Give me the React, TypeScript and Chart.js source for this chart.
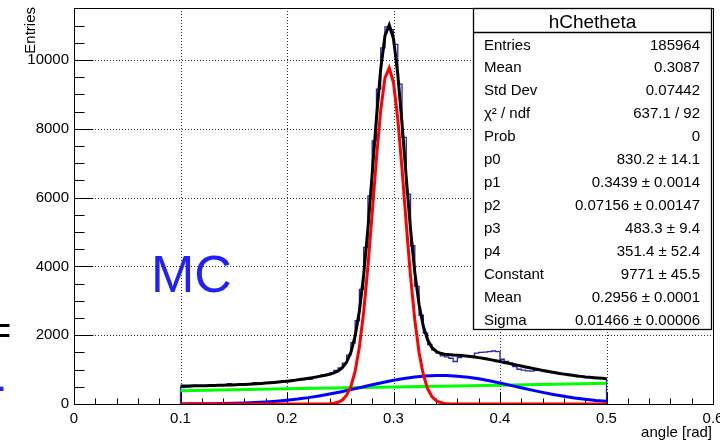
import { useEffect, useRef } from 'react';
import { Chart, registerables } from 'chart.js';

Chart.register(...registerables);

const FONT = "'Liberation Sans', Arial, Helvetica, sans-serif";

// Histogram hChetheta: 100 bins between HIST_LOW and HIST_HIGH
const HIST_LOW = 0.1;
const HIST_HIGH = 0.5;
const histCounts = [
  478, 488, 505, 520, 528, 533, 540, 536, 545, 548,
  552, 590, 560, 566, 565, 575, 582, 622, 596, 600,
  615, 625, 632, 650, 662, 672, 690, 700, 712, 722,
  718, 770, 805, 835, 860, 905, 975, 1050, 1190, 1420,
  1780, 2420, 3330, 4550, 6050, 7650, 9150, 10350, 10960, 10880,
  10450, 9300, 7750, 6100, 4600, 3420, 2580, 2060, 1730, 1570,
  1480, 1400, 1370, 1330, 1235, 1350, 1400, 1385, 1380, 1480,
  1500, 1510, 1525, 1540, 1520, 1300, 1240, 1185, 1090, 1010,
  985, 965, 955, 975, 995, 975, 950, 925, 905, 885,
  865, 845, 830, 812, 800, 786, 772, 762, 752, 742,
];

// Total fit curve (black), 101 samples from 0.1 to 0.5
const fitTotal = [
  521, 523, 525, 527, 529, 532, 534, 537, 540, 544,
  547, 551, 555, 560, 565, 570, 577, 583, 590, 599,
  607, 617, 627, 639, 651, 664, 679, 694, 710, 728,
  746, 767, 788, 811, 836, 864, 903, 959, 1053, 1218,
  1504, 1978, 2712, 3754, 5106, 6686, 8312, 9738, 10705, 11017,
  10618, 9592, 8156, 6570, 5073, 3827, 2891, 2258, 1866, 1643,
  1532, 1474, 1449, 1436, 1426, 1419, 1407, 1396, 1382, 1364,
  1348, 1327, 1306, 1283, 1259, 1235, 1208, 1183, 1156, 1130,
  1103, 1076, 1051, 1025, 1000, 975, 952, 930, 908, 888,
  868, 850, 833, 817, 803, 788, 776, 765, 754, 745,
  736,
];

// Signal gaussian (red), same 101 samples
const fitSignal = [
  0, 0, 0, 0, 0, 0, 0, 0, 0, 0,
  0, 0, 0, 0, 0, 0, 0, 0, 0, 0,
  0, 0, 0, 0, 0, 0, 0, 0, 0, 0,
  0, 0, 0, 1, 2.5, 7, 20, 50, 117, 254,
  512, 957, 1661, 2674, 3997, 5547, 7145, 8542, 9481, 9767,
  9341, 8292, 6833, 5226, 3711, 2446, 1497, 850, 448, 219,
  100, 42, 16, 6, 2, 0, 0, 0, 0, 0,
  0, 0, 0, 0, 0, 0, 0, 0, 0, 0,
  0, 0, 0, 0, 0, 0, 0, 0, 0, 0,
  0, 0, 0, 0, 0, 0, 0, 0, 0, 0,
  0,
];

// Broad background gaussian (blue), 41 samples from 0.1 to 0.5
const fitBkgGaus = [
  2.5, 4, 6.2, 9.5, 14.3, 21.1, 30.6, 43.3, 60.3, 82.2,
  109.9, 144.2, 185.5, 234, 289, 351, 417, 487, 557, 625,
  688, 742, 785, 815, 829, 827, 809, 777, 731, 675,
  611, 542, 472, 403, 337, 277, 223, 176, 136, 103,
  77,
];

// Linear background (green)
const linX = [0.1, 0.2, 0.3, 0.4, 0.5];
const linY = [385, 440, 495, 545, 600];

// Axes
const xTickValues = [0, 0.1, 0.2, 0.3, 0.4, 0.5, 0.6];
const xTickLabels = ['0', '0.1', '0.2', '0.3', '0.4', '0.5', '0.6'];
const yTickValues = [0, 2000, 4000, 6000, 8000, 10000];
const yTickLabels = ['0', '2000', '4000', '6000', '8000', '10000'];
const X_MINOR_STEP = 0.02;
const Y_MINOR_STEP = 500;
const X_MAX = 0.6;
const Y_MAX = 11510;

// Stats box
const statsTitle = 'hChetheta';
const statLabels = ['Entries', 'Mean', 'Std Dev', 'χ² / ndf', 'Prob', 'p0', 'p1', 'p2', 'p3', 'p4', 'Constant', 'Mean', 'Sigma'];
const statValues = ['185964', '0.3087', '0.07442', '637.1 / 92', '0', '830.2 ± 14.1', '0.3439 ± 0.0014', '0.07156 ± 0.00147', '483.3 ± 9.4', '351.4 ± 52.4', '9771 ± 45.5', '0.2956 ± 0.0001', '0.01466 ± 0.00006'];

export default function App() {
  const ref = useRef<HTMLCanvasElement | null>(null);

  useEffect(() => {
    document.body.style.margin = '0';
    const canvas = ref.current;
    if (!canvas) return;

    const nB = histCounts.length;
    const bw = (HIST_HIGH - HIST_LOW) / nB;
    const histPts = [{ x: HIST_LOW, y: 0 }];
    histCounts.forEach((c, i) => histPts.push({ x: HIST_LOW + i * bw, y: c }));
    histPts.push({ x: HIST_HIGH, y: 0 });

    const fstep = (HIST_HIGH - HIST_LOW) / (fitTotal.length - 1);
    const totPts = fitTotal.map((v, k) => ({ x: HIST_LOW + k * fstep, y: v }));
    const sigPts = fitSignal.map((v, k) => ({ x: HIST_LOW + k * fstep, y: v }));
    const bstep = (HIST_HIGH - HIST_LOW) / (fitBkgGaus.length - 1);
    const bkgPts = fitBkgGaus.map((v, k) => ({ x: HIST_LOW + k * bstep, y: v }));
    const linPts = linY.map((v, i) => ({ x: linX[i], y: v }));

    const decor = {
      id: 'rootDecor',
      beforeDatasetsDraw(chart: any) {
        const { ctx, chartArea: a, scales } = chart;
        const xs = scales.x, ys = scales.y;
        ctx.save();
        // dotted grid
        ctx.strokeStyle = 'rgba(0,0,0,0.8)';
        ctx.lineWidth = 1;
        ctx.setLineDash([1, 2]);
        ctx.beginPath();
        xTickValues.forEach((v) => {
          if (v <= 0 || v >= X_MAX) return;
          const px = Math.round(xs.getPixelForValue(v)) + 0.5;
          ctx.moveTo(px, a.top);
          ctx.lineTo(px, a.bottom);
        });
        yTickValues.forEach((v) => {
          if (v <= 0) return;
          const py = Math.round(ys.getPixelForValue(v)) + 0.5;
          ctx.moveTo(a.left, py);
          ctx.lineTo(a.right, py);
        });
        ctx.stroke();
        ctx.setLineDash([]);
        // frame
        ctx.strokeStyle = '#000';
        ctx.lineWidth = 1;
        ctx.strokeRect(Math.round(a.left) + 0.5, Math.round(a.top) + 0.5, Math.round(a.right - a.left), Math.round(a.bottom - a.top));
        const bottom = Math.round(a.bottom) + 0.5;
        const left = Math.round(a.left) + 0.5;
        ctx.beginPath();
        for (let v = 0; v <= X_MAX + 1e-9; v += X_MINOR_STEP) {
          const px = Math.round(xs.getPixelForValue(v)) + 0.5;
          const major = Math.abs(v * 10 - Math.round(v * 10)) < 1e-6;
          const len = major ? 12 : 6;
          ctx.moveTo(px, bottom);
          ctx.lineTo(px, bottom - len);
        }
        for (let v = 0; v <= Y_MAX; v += Y_MINOR_STEP) {
          const py = Math.round(ys.getPixelForValue(v)) + 0.5;
          const major = v % 2000 === 0;
          const len = major ? 19 : 10;
          ctx.moveTo(left, py);
          ctx.lineTo(left + len, py);
        }
        ctx.stroke();
        ctx.restore();
      },
      afterDatasetsDraw(chart: any) {
        const { ctx } = chart;
        ctx.save();
        // Stats box
        const bx0 = 473, by0 = 8, bx1 = 712, by1 = 330;
        ctx.fillStyle = '#fff';
        ctx.fillRect(bx0, by0, bx1 - bx0, by1 - by0);
        ctx.strokeStyle = '#000';
        ctx.lineWidth = 1.3;
        ctx.strokeRect(bx0 + 0.5, by0 + 0.5, bx1 - bx0 - 1, by1 - by0 - 1);
        ctx.beginPath();
        ctx.moveTo(bx0, 32.5);
        ctx.lineTo(bx1, 32.5);
        ctx.stroke();
        ctx.fillStyle = '#000';
        ctx.font = `19px ${FONT}`;
        ctx.textAlign = 'center';
        ctx.textBaseline = 'alphabetic';
        ctx.fillText(statsTitle, (bx0 + bx1) / 2, 27.5);
        ctx.font = `15px ${FONT}`;
        statLabels.forEach((lab, i) => {
          const yb = 49.5 + i * 22.95;
          ctx.textAlign = 'left';
          ctx.fillText(lab, 484, yb);
          ctx.textAlign = 'right';
          ctx.fillText(statValues[i], 700, yb);
        });
        // Axis titles
        ctx.font = `15px ${FONT}`;
        ctx.textAlign = 'right';
        ctx.fillText('angle [rad]', 712, 437);
        ctx.save();
        ctx.translate(35, 7);
        ctx.rotate(-Math.PI / 2);
        ctx.font = `15px ${FONT}`;
        ctx.textAlign = 'right';
        ctx.fillText('Entries', 0, 0);
        ctx.restore();
        // MC label
        ctx.fillStyle = '#1f1fff';
        ctx.font = `52px ${FONT}`;
        ctx.textAlign = 'left';
        ctx.fillText('MC', 151, 292);
        // cut-off glyphs at the left edge
        ctx.fillStyle = '#000';
        ctx.font = `40px ${FONT}`;
        ctx.fillText('=', -12, 344);
        ctx.fillStyle = '#1f1fff';
        ctx.fillText('.', -4, 391);
        ctx.restore();
      },
    };

    const chart = new Chart(canvas, {
      type: 'line',
      data: {
        datasets: [
          { label: 'gaus', data: sigPts, borderColor: '#ff0000', borderWidth: 3, order: 0 },
          { label: 'bkg', data: bkgPts, borderColor: '#0000ff', borderWidth: 3, order: 1 },
          { label: 'pol1', data: linPts, borderColor: '#00ff00', borderWidth: 3, order: 2 },
          { label: 'total', data: totPts, borderColor: '#000000', borderWidth: 3, order: 3 },
          { label: 'hChetheta', data: histPts, borderColor: '#2323c0', borderWidth: 1.3, stepped: 'before', order: 4 },
        ],
      } as any,
      options: {
        animation: false,
        responsive: false,
        devicePixelRatio: 1,
        layout: { padding: { left: 0, top: 8, right: 7, bottom: 0 } },
        elements: { point: { radius: 0 }, line: { tension: 0, fill: false } },
        plugins: { legend: { display: false }, tooltip: { enabled: false } },
        scales: {
          x: {
            type: 'linear',
            min: 0,
            max: X_MAX,
            afterBuildTicks: (s: any) => { s.ticks = xTickValues.map((v) => ({ value: v })); },
            afterFit: (s: any) => { s.height = 38; s.paddingLeft = 0; s.paddingRight = 0; },
            grid: { display: false, drawTicks: false },
            border: { display: false },
            ticks: {
              padding: 6,
              color: '#000',
              font: { family: FONT, size: 15 },
              maxRotation: 0,
              autoSkip: false,
              callback: (v: any) => { const i = xTickValues.findIndex((t) => Math.abs(t - v) < 1e-9); return i >= 0 ? xTickLabels[i] : ''; },
            },
          },
          y: {
            type: 'linear',
            min: 0,
            max: Y_MAX,
            afterBuildTicks: (s: any) => { s.ticks = yTickValues.map((v) => ({ value: v })); },
            afterFit: (s: any) => { s.width = 74; s.paddingTop = 0; s.paddingBottom = 0; },
            grid: { display: false, drawTicks: false },
            border: { display: false },
            ticks: {
              padding: 5,
              color: '#000',
              font: { family: FONT, size: 15 },
              autoSkip: false,
              callback: (v: any) => { const i = yTickValues.indexOf(v); return i >= 0 ? yTickLabels[i] : ''; },
            },
          },
        },
      } as any,
      plugins: [decor],
    });

    return () => chart.destroy();
  }, []);

  return (
    <div style={{ width: 720, height: 442, background: '#fff' }}>
      <canvas ref={ref} width={720} height={442} style={{ display: 'block' }} />
    </div>
  );
}
